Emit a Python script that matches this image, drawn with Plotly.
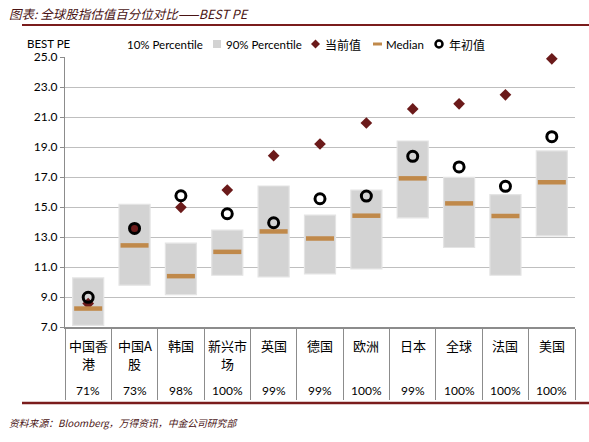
import plotly.graph_objects as go

# data
markets = ["中国香港", "中国A股", "韩国", "新兴市场", "英国", "德国",
           "欧洲", "日本", "全球", "法国", "美国"]
pct_rank = ["71%", "73%", "98%", "100%", "99%", "99%",
            "100%", "99%", "100%", "100%", "100%"]
p10 = [7.11, 9.79, 9.16, 10.45, 10.34, 10.54, 10.87, 14.28, 12.30, 10.45, 13.08]
p90 = [10.27, 15.18, 12.59, 13.46, 16.40, 14.46, 16.13, 19.40, 16.98, 15.82, 18.74]
median = [8.23, 12.44, 10.39, 12.01, 13.37, 12.90, 14.42, 16.91, 15.24, 14.40, 16.65]
current = [8.56, 13.57, 14.98, 16.13, 18.42, 19.20, 20.60, 21.54, 21.88, 22.48, 24.88]
year_start = [8.98, 13.57, 15.75, 14.55, 13.95, 15.55, 15.73, 18.38, 17.67, 16.38, 19.69]

DARK_RED = "#6b1a1a"
TAN = "#c0894a"
GREY_BOX = "#d3d3d3"
BASE_FONT = "Lato, Noto Sans CJK SC, sans-serif"
CJK_FONT = "Noto Sans CJK SC, sans-serif"

# plot area in pixels: x 65..575, y 57..327
L, R, T, B = 65, 575, 57, 327


def px(x):
    return (x - L) / (R - L)


def py(y):
    return (B - y) / (B - T)


fig = go.Figure()

fig.add_trace(go.Bar(
    x=markets, y=[hi - lo for hi, lo in zip(p90, p10)], base=p10,
    name="90% Percentile", width=0.67,
    marker=dict(color=GREY_BOX, line=dict(color="#e4e4e4", width=1.2))))
fig.add_trace(go.Scatter(
    x=markets, y=current, name="当前值", mode="markers", cliponaxis=False,
    marker=dict(symbol="diamond", size=9, color=DARK_RED)))
fig.add_trace(go.Scatter(
    x=markets, y=median, name="Median", mode="markers", cliponaxis=False,
    marker=dict(symbol="line-ew", size=20, line=dict(color=TAN, width=4.5))))
fig.add_trace(go.Scatter(
    x=markets, y=year_start, name="年初值", mode="markers", cliponaxis=False,
    marker=dict(symbol="circle-open", size=10, color="black",
                line=dict(color="black", width=3))))


def label(text, x, y, size=12, family=BASE_FONT, color="black", style="normal",
          xanchor="left"):
    return dict(text=text, x=x, y=y, xref="paper", yref="paper",
                xanchor=xanchor, yanchor="middle", showarrow=False,
                font=dict(family=family, size=size, color=color, style=style))


def cat_label(text, cat, y, family, size):
    return dict(text=text, x=cat, y=py(y), xref="x", yref="paper",
                xanchor="center", yanchor="middle", showarrow=False,
                font=dict(family=family, size=size, color="black"))


annotations = [
    label("图表: 全球股指估值百分位对比——BEST PE", px(7), py(13), size=12.5,
          family=CJK_FONT, color="#4a1414", style="italic"),
    label("BEST PE", px(25), py(43), size=11.5),
    label("资料来源：Bloomberg，万得资讯，中金公司研究部", px(7), py(423),
          size=9.8, family=CJK_FONT, color="#4a1414", style="italic"),
    # hand-built legend
    label("10% Percentile", px(125), py(44), size=11.5),
    label("90% Percentile", px(224), py(44), size=11.5),
    label("当前值", px(323), py(44), size=12, family=CJK_FONT),
    label("Median", px(384), py(44), size=11.5),
    label("年初值", px(447), py(44), size=12, family=CJK_FONT),
]
for name, rank in zip(markets, pct_rank):
    # long names wrap after three characters, as in the source table
    annotations.append(cat_label(name[:3], name, 345, CJK_FONT, 13))
    if len(name) > 3:
        annotations.append(cat_label(name[3:], name, 363, CJK_FONT, 13))
    annotations.append(cat_label(rank, name, 390, BASE_FONT, 12))

shapes = [
    dict(type="line", xref="paper", yref="paper", x0=px(22), x1=px(589),
         y0=py(25), y1=py(25), line=dict(color="#7a1c1c", width=2)),
    dict(type="line", xref="paper", yref="paper", x0=px(22), x1=px(589),
         y0=py(403), y1=py(403), line=dict(color="#7a1c1c", width=2.5)),
    # legend symbols
    dict(type="rect", xref="paper", yref="paper", x0=px(213), x1=px(221),
         y0=py(48), y1=py(40), fillcolor=GREY_BOX, line=dict(width=0)),
    dict(type="path", xref="paper", yref="paper",
         path=f"M {px(311)} {py(44)} L {px(315.5)} {py(39.5)} "
              f"L {px(320)} {py(44)} L {px(315.5)} {py(48.5)} Z",
         fillcolor=DARK_RED, line=dict(width=0)),
    dict(type="rect", xref="paper", yref="paper", x0=px(373), x1=px(382),
         y0=py(45.5), y1=py(42.5), fillcolor=TAN, line=dict(width=0)),
    dict(type="circle", xref="paper", yref="paper", x0=px(435.5), x1=px(442.5),
         y0=py(47.5), y1=py(40.5), line=dict(color="black", width=2.5)),
]

fig.update_layout(
    width=589, height=442,
    margin=dict(l=L, r=589 - R, t=T, b=442 - B, autoexpand=False),
    paper_bgcolor="white", plot_bgcolor="white",
    barmode="overlay",
    font=dict(family=BASE_FONT, size=12, color="black"),
    showlegend=False,
    annotations=annotations,
    shapes=shapes,
)
fig.update_xaxes(
    range=[-0.5, len(markets) - 0.5], showticklabels=False, showgrid=False,
    tickson="boundaries", ticks="outside", ticklen=71, tickcolor="#8c8c8c",
    tickwidth=1.3, showline=True, linecolor="#8c8c8c", linewidth=1.5)
fig.update_yaxes(
    range=[7, 25], dtick=2, tick0=7, tickformat=".1f", showgrid=True,
    gridcolor="#bfbfbf", gridwidth=1.2, ticks="outside", ticklen=4,
    tickcolor="#8c8c8c", showline=True, linecolor="#8c8c8c", linewidth=1.3,
    zeroline=False, tickfont=dict(family=BASE_FONT, size=12, color="black"))

# drop the browser's default 8px body margin so the figure sits at the corner
fig.write_html("out.html", config={"displayModeBar": False},
               post_script="document.body.style.margin = '0';")
